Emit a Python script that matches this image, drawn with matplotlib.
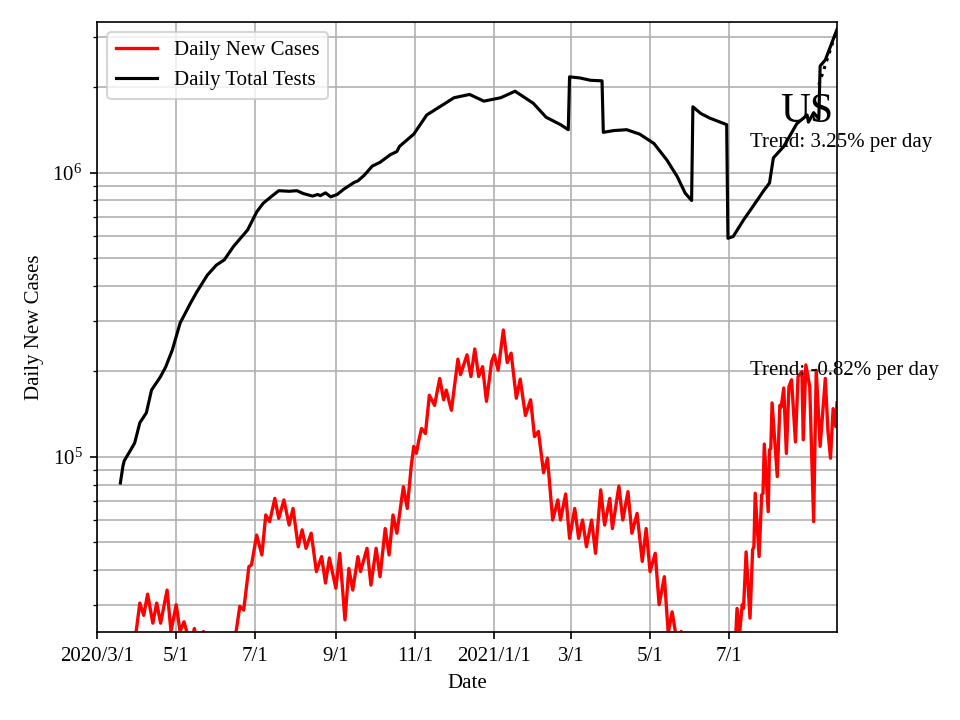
import matplotlib
matplotlib.use('Agg')
import matplotlib.pyplot as plt
import pandas as pd
import numpy as np
from matplotlib.ticker import NullFormatter

plt.rcParams['font.family'] = ['Liberation Serif', 'DejaVu Serif']
plt.rcParams['mathtext.fontset'] = 'stix'

# ---- data (days counted from 2020-03-01) ----
start_date = '2020-03-01'

case_days = [18, 24, 28, 30, 33, 36, 39, 43, 46, 49, 54, 57, 61, 64, 67, 70, 73, 75, 76, 79,
             82, 84, 88, 92, 96, 100, 104, 107, 110, 113, 117, 119, 123, 127, 130, 133, 137, 140,
             144, 148, 151, 155, 158, 161, 165, 169, 173, 176, 179, 184, 187, 191, 194, 197, 201,
             203, 208, 211, 215, 218, 222, 225, 228, 231, 236, 239, 242, 244, 246, 248, 250, 253,
             256, 260, 264, 267, 269, 273, 278, 280, 285, 288, 291, 294, 297, 300, 304, 306, 309,
             313, 316, 319, 323, 326, 330, 334, 337, 340, 344, 347, 351, 355, 357, 361, 364, 368,
             371, 374, 377, 381, 384, 388, 391, 395, 397, 402, 405, 409, 412, 416, 420, 423, 426,
             430, 433, 437, 440, 443, 446, 448, 450, 452, 456, 460, 465, 470, 475, 480, 485, 489,
             492, 493, 495, 497, 498, 500, 503, 505, 506, 507, 510, 512, 513, 514, 517, 518, 519,
             520, 524, 526, 527, 529, 531, 533, 535, 538, 540, 543, 544, 546, 549, 552, 554, 557,
             561, 563, 565, 567, 569, 570]
case_values = [5000, 12000, 19000, 24000, 30600, 27700, 32900, 26000, 30600, 26000, 34000, 24300,
               30200, 24300, 26300, 23500, 22000, 24900, 23500, 21000, 24300, 21000, 20000, 21000,
               19500, 21000, 22000, 24000, 29800, 28900, 41100, 41700, 53100, 45200, 62500, 59200,
               71500, 60800, 70600, 57600, 65900, 48300, 55400, 47700, 53900, 39500, 44600, 36000,
               44100, 34500, 45800, 26700, 40500, 34000, 44600, 39500, 47700, 35400, 47700, 37900,
               56000, 45200, 62500, 53900, 78600, 65900, 92500, 109000, 103000, 115000, 126000,
               121000, 165000, 152000, 189000, 159000, 172000, 146000, 221000, 195000, 229000,
               192000, 240000, 192000, 208000, 157000, 217000, 229000, 202000, 280000, 215000,
               232000, 161000, 188000, 140000, 159000, 118000, 123000, 88000, 99000, 60000, 70600,
               60000, 74100, 51700, 65900, 51700, 60000, 48300, 60000, 45800, 76600, 57600, 71500,
               56000, 79000, 60000, 75500, 53900, 63300, 42900, 56000, 39500, 45800, 30200, 37900,
               24000, 28500, 23500, 21000, 24300, 20000, 17000, 14000, 13000, 12000, 13000, 15000,
               17000, 20000, 23500, 29300, 24000, 30200, 29300, 46300, 27100, 47100, 48300, 74500,
               44600, 73500, 74500, 111000, 64200, 106000, 107000, 155000, 85300, 152000, 150000,
               175000, 103000, 177000, 187000, 113000, 192000, 200000, 115000, 211000, 177000,
               59200, 202000, 109000, 189000, 124000, 99000, 148000, 128000, 155000]

test_days = [18, 20, 21, 26, 29, 33, 38, 42, 49, 53, 58, 64, 72, 77, 85, 92, 98, 105, 116, 123,
             128, 134, 140, 148, 154, 159, 166, 170, 172, 176, 180, 185, 190, 198, 201, 206, 212,
             218, 226, 231, 233, 244, 254, 264, 275, 287, 298, 311, 322, 336, 346, 357, 363, 364,
             372, 380, 389, 390, 398, 408, 418, 429, 439, 447, 453, 458, 459, 465, 472, 480, 485,
             486, 490, 498, 506, 513, 518, 521, 529, 539, 547, 548, 552, 556, 557, 561, 566, 570]
test_values = [81000, 93000, 97000, 106000, 112000, 132000, 143000, 172000, 192000, 208000,
               238000, 296000, 348000, 382000, 437000, 474000, 494000, 550000, 630000, 729000,
               782000, 824000, 866000, 862000, 866000, 846000, 829000, 840000, 832000, 851000,
               824000, 840000, 876000, 926000, 938000, 983000, 1057000, 1090000, 1160000,
               1190000, 1240000, 1370000, 1600000, 1710000, 1840000, 1890000, 1790000, 1840000,
               1940000, 1760000, 1570000, 1480000, 1420000, 2180000, 2160000, 2120000, 2110000,
               1390000, 1410000, 1420000, 1370000, 1270000, 1110000, 970000, 850000, 800000,
               1710000, 1620000, 1560000, 1510000, 1480000, 589000, 597000, 683000, 771000,
               859000, 922000, 1130000, 1240000, 1490000, 1600000, 1510000, 1630000, 1550000,
               2380000, 2500000, 2870000, 3200000]

tick_dates = ['2020-03-01', '2020-05-01', '2020-07-01', '2020-09-01', '2020-11-01',
              '2021-01-01', '2021-03-01', '2021-05-01', '2021-07-01']
tick_labels = ['2020/3/1', '5/1', '7/1', '9/1', '11/1', '2021/1/1', '3/1', '5/1', '7/1']

region_name = 'US'
case_trend_pct = -0.82
test_trend_pct = 3.25
trend_window = 14

# ---- build ----
t0 = pd.Timestamp(start_date)
case_dates = t0 + pd.to_timedelta(case_days, unit='D')
test_dates = t0 + pd.to_timedelta(test_days, unit='D')

fig = plt.figure(figsize=(6.4, 4.8), dpi=150)
ax = fig.add_axes([97 / 960, 1 - 632 / 720, 740 / 960, 610 / 720])

ax.plot(case_dates, case_values, color='red', lw=1.6, label='Daily New Cases',
        solid_joinstyle='round')
ax.plot(test_dates, test_values, color='black', lw=1.5, label='Daily Total Tests',
        solid_joinstyle='round')

# dotted trend line for tests over the last window
d_end = test_days[-1]
tt = np.arange(d_end - trend_window, d_end + 1)
yy = test_values[-1] * (1 + test_trend_pct / 100.0) ** (tt - d_end)
ax.plot(t0 + pd.to_timedelta(tt, unit='D'), yy, color='black', ls=':', lw=1.5)

ax.set_yscale('log')
ax.set_ylim(24200, 3.4e6)
ax.set_xlim(t0, test_dates[-1])
ax.yaxis.set_minor_formatter(NullFormatter())

ax.set_xticks(pd.to_datetime(tick_dates))
ax.set_xticklabels(tick_labels)

ax.grid(True, which='both', color='#b0b0b0', lw=0.8)
ax.set_axisbelow(True)

ax.set_xlabel('Date')
ax.set_ylabel('Daily New Cases')
ax.legend(loc='upper left')

ax.text(0.959, 0.836, region_name, transform=ax.transAxes, fontsize=20,
        ha='center', va='baseline')
ax.text(0.882, 0.795, f'Trend: {test_trend_pct:.2f}% per day', transform=ax.transAxes,
        ha='left', va='baseline', clip_on=False)
ax.text(0.882, 0.421, f'Trend: {case_trend_pct:.2f}% per day', transform=ax.transAxes,
        ha='left', va='baseline', clip_on=False)

fig.savefig('out.png', dpi=150)
